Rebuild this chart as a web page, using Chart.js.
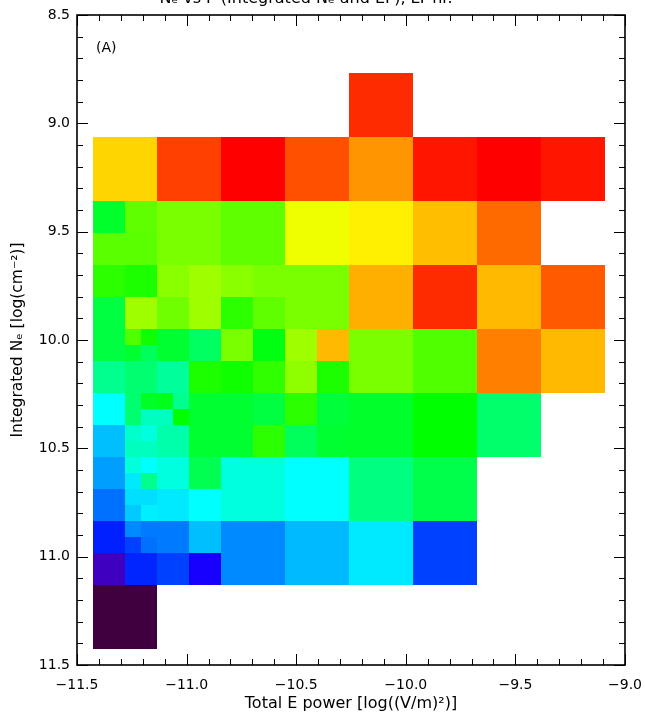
<!DOCTYPE html>
<html lang="en">
<head>
<meta charset="UTF-8">
<title>Ne vs P</title>
<script src="https://cdn.jsdelivr.net/npm/chart.js"></script>
<style>
  html, body { margin: 0; padding: 0; background: #fff; }
  #wrap { width: 645px; height: 715px; position: relative; }
</style>
</head>
<body>
<div id="wrap"><canvas id="chart"></canvas></div>
<script>
    // Axis ranges and tick labels
    const xRange = [-11.5, -9.0];
    const yRange = [8.5, 11.5];
    const xTickValues = [-11.5, -11.0, -10.5, -10.0, -9.5, -9.0];
    const yTickValues = [8.5, 9.0, 9.5, 10.0, 10.5, 11.0, 11.5];

    // Bin grid: origin of the coarse grid and size of one quarter bin (data units)
    const binX0 = -11.427, binQuarterX = 0.073;
    const binY0 = 9.063, binQuarterY = 0.07385;

    // Cells as [quarterCol, quarterRow, value], value = colour index 0..240
    const wholeBins = [
        [16, -4, 232],
        [0, 0, 200], [4, 0, 228], [8, 0, 240], [12, 0, 225], [16, 0, 212], [20, 0, 236], [24, 0, 240], [28, 0, 236],
        [4, 4, 167], [8, 4, 162], [12, 4, 189], [16, 4, 195], [20, 4, 204], [24, 4, 220],
        [12, 8, 167], [16, 8, 207], [20, 8, 232], [24, 8, 205], [28, 8, 223],
        [16, 12, 167], [20, 12, 159], [24, 12, 216], [28, 12, 205],
        [16, 16, 136], [20, 16, 144], [24, 16, 124],
        [8, 20, 102], [12, 20, 96], [16, 20, 120], [20, 20, 130],
        [8, 24, 74], [12, 24, 83], [16, 24, 92], [20, 24, 60],
        [0, 28, 0]
    ];
    const halfBins = [
        [0, 4, 136], [2, 4, 162], [0, 6, 161], [2, 6, 161],
        [0, 8, 152], [2, 8, 149], [0, 10, 132], [2, 10, 174],
        [4, 8, 170], [6, 8, 174], [4, 10, 165], [6, 10, 174],
        [8, 8, 170], [10, 8, 167], [8, 10, 152], [10, 10, 162],
        [0, 12, 132], [0, 14, 117], [2, 14, 123],
        [4, 12, 135], [6, 12, 126], [4, 14, 115], [6, 14, 149],
        [8, 12, 167], [10, 12, 141], [8, 14, 147], [10, 14, 153],
        [12, 12, 174], [14, 12, 205], [12, 14, 171], [14, 14, 149],
        [0, 16, 96], [0, 18, 84],
        [6, 16, 135], [4, 18, 112], [6, 18, 135],
        [8, 16, 135], [10, 16, 132], [8, 18, 135], [10, 18, 152],
        [12, 16, 152], [14, 16, 133], [12, 18, 127], [14, 18, 135],
        [0, 20, 78], [0, 22, 69],
        [4, 20, 102], [6, 20, 129], [4, 22, 92], [6, 22, 96],
        [0, 24, 54], [0, 26, 24], [2, 26, 55],
        [4, 24, 71], [6, 24, 84], [4, 26, 60], [6, 26, 40]
    ];
    const quarterBins = [
        [2, 12, 159], [3, 12, 147], [2, 13, 135], [3, 13, 127],
        [2, 16, 123], [3, 16, 137], [2, 17, 123], [3, 17, 108],
        [2, 18, 106], [3, 18, 102], [2, 19, 108], [3, 19, 108],
        [4, 16, 139], [5, 16, 117], [4, 17, 108], [5, 17, 144],
        [2, 20, 103], [3, 20, 96], [2, 21, 92], [3, 21, 117],
        [2, 22, 90], [3, 22, 90], [2, 23, 86], [3, 23, 93],
        [2, 24, 74], [3, 24, 71], [2, 25, 60], [3, 25, 69]
    ];

    // Rainbow colour table
    const colorStops = [
        [0, [64, 0, 64]], [24, [64, 0, 192]], [40, [24, 0, 255]], [48, [0, 0, 255]],
        [96, [0, 255, 255]], [144, [0, 255, 0]], [192, [255, 255, 0]], [240, [255, 0, 0]]
    ];

    function colorFor(v) {
        for (let i = 1; i < colorStops.length; i++) {
            const [v0, c0] = colorStops[i - 1];
            const [v1, c1] = colorStops[i];
            if (v <= v1) {
                const t = (v - v0) / (v1 - v0);
                const c = c0.map((a, k) => Math.round(a + (c1[k] - a) * t));
                return `rgb(${c[0]},${c[1]},${c[2]})`;
            }
        }
        return 'rgb(255,0,0)';
    }

    // Build the cell list with data-unit edges
    const cells = [];
    [[wholeBins, 4], [halfBins, 2], [quarterBins, 1]].forEach(([list, span]) => {
        list.forEach(([qc, qr, v]) => {
            cells.push({
                x0: binX0 + qc * binQuarterX,
                x1: binX0 + (qc + span) * binQuarterX,
                y0: binY0 + qr * binQuarterY,
                y1: binY0 + (qr + span) * binQuarterY,
                v: v
            });
        });
    });

    const fmt = v => Number(v).toFixed(1).replace('-', '\u2212');
    const labelFont = { family: 'DejaVu Sans', size: 14 };

    // Draws the bins through the chart scales
    const binPlugin = {
        id: 'bins',
        beforeDatasetsDraw(chart) {
            const { ctx, scales: { x, y } } = chart;
            ctx.save();
            cells.forEach(c => {
                const px0 = Math.round(x.getPixelForValue(c.x0));
                const px1 = Math.round(x.getPixelForValue(c.x1));
                const py0 = Math.round(y.getPixelForValue(c.y0));
                const py1 = Math.round(y.getPixelForValue(c.y1));
                ctx.fillStyle = colorFor(c.v);
                ctx.fillRect(px0, py0, px1 - px0, py1 - py0);
            });
            ctx.restore();
        }
    };

    // Frame with inward ticks on all four sides, panel label and clipped title
    const framePlugin = {
        id: 'frame',
        afterDraw(chart) {
            const { ctx, chartArea: a, scales: { x, y } } = chart;
            ctx.save();
            ctx.strokeStyle = '#000';
            ctx.lineWidth = 1.6;
            ctx.strokeRect(a.left, a.top, a.right - a.left, a.bottom - a.top);
            ctx.lineWidth = 1;
            ctx.beginPath();
            for (let i = 0; i <= 25; i++) {
                const v = xRange[0] + i * 0.1;
                const len = i % 5 === 0 ? 11 : 6;
                const px = Math.round(x.getPixelForValue(v)) + 0.5;
                ctx.moveTo(px, a.bottom); ctx.lineTo(px, a.bottom - len);
                ctx.moveTo(px, a.top); ctx.lineTo(px, a.top + len);
            }
            for (let i = 0; i <= 30; i++) {
                const v = yRange[0] + i * 0.1;
                const len = i % 5 === 0 ? 11 : 6;
                const py = Math.round(y.getPixelForValue(v)) + 0.5;
                ctx.moveTo(a.left, py); ctx.lineTo(a.left + len, py);
                ctx.moveTo(a.right, py); ctx.lineTo(a.right - len, py);
            }
            ctx.stroke();

            ctx.fillStyle = '#000';
            ctx.font = '14px "DejaVu Sans"';
            ctx.textBaseline = 'middle';
            ctx.fillText('(A)', 96, 48);

            ctx.font = '16px "DejaVu Sans"';
            ctx.textAlign = 'center';
            ctx.textBaseline = 'alphabetic';
            ctx.fillText('N\u2091 vs P (Integrated N\u2091 and EF), LT hr.', 306, 3);
            ctx.restore();
        }
    };

    new Chart(document.getElementById('chart'), {
        type: 'scatter',
        data: {
            datasets: [{
                data: cells.map(c => ({ x: (c.x0 + c.x1) / 2, y: (c.y0 + c.y1) / 2 })),
                pointRadius: 0,
                pointHoverRadius: 0
            }]
        },
        options: {
            responsive: true,
            maintainAspectRatio: false,
            animation: false,
            devicePixelRatio: 1,
            layout: { padding: { top: 15, right: 20, left: 0, bottom: 0 } },
            plugins: { legend: { display: false }, tooltip: { enabled: false } },
            scales: {
                x: {
                    type: 'linear',
                    min: xRange[0],
                    max: xRange[1],
                    grid: { display: false, drawTicks: false },
                    border: { display: false },
                    afterBuildTicks: s => { s.ticks = xTickValues.map(v => ({ value: v })); },
                    afterFit: s => { s.height = 50; s.paddingLeft = 0; s.paddingRight = 0; },
                    ticks: {
                        font: labelFont, color: '#000', padding: 12,
                        maxRotation: 0, autoSkip: false, callback: fmt
                    },
                    title: {
                        display: true,
                        text: 'Total E power [log((V/m)\u00b2)]',
                        font: { family: 'DejaVu Sans', size: 16 },
                        color: '#000',
                        padding: { top: 0, bottom: 2 }
                    }
                },
                y: {
                    type: 'linear',
                    reverse: true,
                    min: yRange[0],
                    max: yRange[1],
                    grid: { display: false, drawTicks: false },
                    border: { display: false },
                    afterBuildTicks: s => { s.ticks = yTickValues.map(v => ({ value: v })); },
                    afterFit: s => { s.width = 77; s.paddingTop = 0; s.paddingBottom = 0; },
                    ticks: {
                        font: labelFont, color: '#000', padding: 7,
                        autoSkip: false, callback: fmt
                    },
                    title: {
                        display: true,
                        text: 'Integrated N\u2091 [log(cm\u207b\u00b2)]',
                        font: { family: 'DejaVu Sans', size: 15.5 },
                        color: '#000',
                        padding: { top: 9, bottom: 0 }
                    }
                }
            }
        },
        plugins: [binPlugin, framePlugin]
    });
</script>
</body>
</html>
